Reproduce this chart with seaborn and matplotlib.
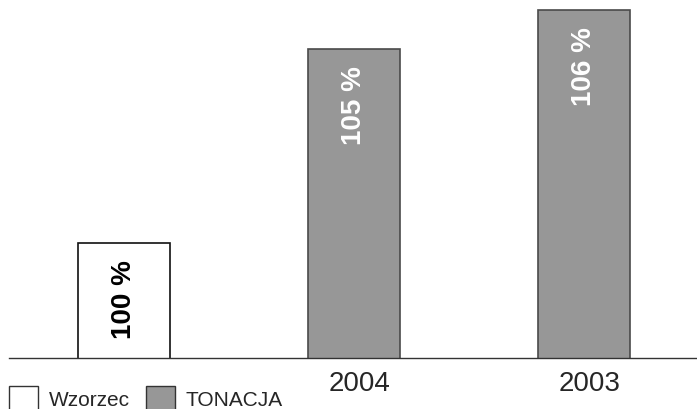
import matplotlib
matplotlib.use("Agg")
import matplotlib.pyplot as plt
import matplotlib.transforms as mtransforms
import seaborn as sns
import pandas as pd

categories = ["", "2004", "2003"]
series = ["Wzorzec", "TONACJA", "TONACJA"]
values = [100, 105, 106]
labels = ["100 %", "105 %", "106 %"]

sns.set_style("white")
plt.rcParams["font.family"] = ["Liberation Sans", "DejaVu Sans"]

df = pd.DataFrame({"cat": categories, "series": series, "value": values})

fig = plt.figure(figsize=(6.97, 4.10), dpi=100)
ax = fig.add_axes([9 / 697, 1 - 359 / 410, 1 - 9 / 697, 359 / 410])

palette = {"Wzorzec": "#ffffff", "TONACJA": "#979797"}
sns.barplot(data=df, x="cat", y="value", hue="series", palette=palette,
            dodge=False, width=0.4, ax=ax, legend=True)

edge = {"Wzorzec": "#111111", "TONACJA": "#4a4a4a"}
for cont, name in zip(ax.containers, ["Wzorzec", "TONACJA"]):
    for p in cont:
        p.set_edgecolor(edge[name])
        p.set_linewidth(1.2)

ax.set_ylim(97.03, 106.28)
ax.set_xlim(-0.5, 2.49)

for i, (v, lab) in enumerate(zip(values, labels)):
    col = "black" if series[i] == "Wzorzec" else "white"
    ax.annotate(lab, xy=(i, v), xytext=(0, -11.5), textcoords="offset points",
                rotation=90, ha="center", va="top", fontsize=20,
                fontweight="bold", color=col)

for s in ["top", "right", "left"]:
    ax.spines[s].set_visible(False)
ax.spines["bottom"].set_color("#333333")
ax.spines["bottom"].set_linewidth(1.0)
ax.set_yticks([])
ax.tick_params(axis="x", length=0, labelsize=20, pad=9)
ax.set_xlabel("")
ax.set_ylabel("")
offset = mtransforms.ScaledTranslation(5 / 100, 0, fig.dpi_scale_trans)
for t in ax.get_xticklabels():
    t.set_transform(t.get_transform() + offset)

handles, lbls = ax.get_legend_handles_labels()
ax.get_legend().remove()
for h in handles:
    h.set_edgecolor("#333333")
    h.set_linewidth(1.0)
fig.legend(handles, lbls, loc="lower left", bbox_to_anchor=(9 / 697, -1 / 410),
           ncol=2, frameon=False, fontsize=15, handlelength=1.4,
           handleheight=1.36, handletextpad=0.5, columnspacing=0.8,
           borderpad=0, borderaxespad=0)

fig.savefig("out.png", dpi=100)
